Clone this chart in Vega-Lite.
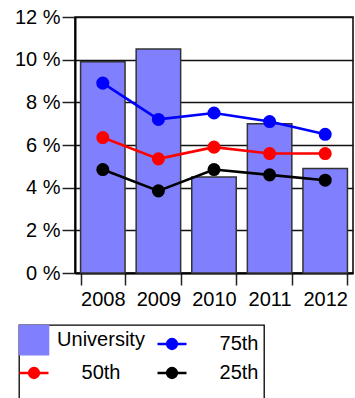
{
  "$schema": "https://vega.github.io/schema/vega-lite/v6.json",
  "width": 278,
  "height": 256,
  "autosize": {"type": "none"},
  "padding": {"left": 75, "top": 17, "right": 2, "bottom": 125},
  "background": "white",
  "config": {
    "font": "Liberation Sans",
    "view": {"stroke": "#111111", "strokeWidth": 1.6},
    "axis": {"labelFont": "Liberation Sans", "labelFontSize": 20, "labelColor": "#000000", "domainColor": "#000000", "tickColor": "#222222"}
  },
  "data": {
    "values": [
      {"year": "2008", "series": "University", "value": 9.9},
      {"year": "2009", "series": "University", "value": 10.5},
      {"year": "2010", "series": "University", "value": 4.5},
      {"year": "2011", "series": "University", "value": 7.0},
      {"year": "2012", "series": "University", "value": 4.9},
      {"year": "2008", "series": "75th", "value": 8.9},
      {"year": "2009", "series": "75th", "value": 7.2},
      {"year": "2010", "series": "75th", "value": 7.5},
      {"year": "2011", "series": "75th", "value": 7.1},
      {"year": "2012", "series": "75th", "value": 6.5},
      {"year": "2008", "series": "50th", "value": 6.35},
      {"year": "2009", "series": "50th", "value": 5.35},
      {"year": "2010", "series": "50th", "value": 5.9},
      {"year": "2011", "series": "50th", "value": 5.6},
      {"year": "2012", "series": "50th", "value": 5.6},
      {"year": "2008", "series": "25th", "value": 4.85},
      {"year": "2009", "series": "25th", "value": 3.85},
      {"year": "2010", "series": "25th", "value": 4.85},
      {"year": "2011", "series": "25th", "value": 4.6},
      {"year": "2012", "series": "25th", "value": 4.35}
    ]
  },
  "encoding": {
    "x": {
      "field": "year", "type": "nominal",
      "scale": {"paddingInner": 0.2, "paddingOuter": 0.1},
      "axis": {"title": null, "labelAngle": 0, "tickBand": "extent", "tickSize": 12, "tickWidth": 1.5, "labelPadding": 4, "domainWidth": 2, "grid": false}
    },
    "y": {
      "field": "value", "type": "quantitative",
      "scale": {"domain": [0, 12], "nice": false},
      "axis": {"title": null, "values": [0, 2, 4, 6, 8, 10, 12], "labelExpr": "datum.value + ' %'", "tickSize": 13, "tickWidth": 1.5, "labelPadding": 2, "domainWidth": 2, "grid": true, "gridColor": "#111111", "gridWidth": 1.3, "gridOpacity": 1}
    },
    "color": {
      "field": "series", "type": "nominal",
      "scale": {"domain": ["University", "75th", "50th", "25th"], "range": ["#8080FF", "#0000FF", "#FF0000", "#000000"]},
      "legend": {
        "title": "\u00a0\u00a0\u00a0",
        "titleOrient": "right",
        "titleFontSize": 100,
        "titleAnchor": "start",
        "titleBaseline": "top",
        "titlePadding": 0,
        "orient": "none",
        "direction": "horizontal",
        "legendX": -56,
        "legendY": 308,
        "columns": 2,
        "columnPadding": 7,
        "rowPadding": 5,
        "padding": 5,
        "strokeColor": "#000000",
        "fillColor": "white",
        "symbolSize": 841,
        "symbolStrokeColor": "#222222",
        "symbolStrokeWidth": 1.6,
        "labelFont": "Liberation Sans",
        "labelFontSize": 20,
        "labelColor": "#000000",
        "labelAlign": "center",
        "labelBaseline": "middle",
        "labelOffset": 57,
        "labelLimit": 200,
        "encode": {
          "legend": {"update": {"strokeWidth": {"value": 1.3}}},
          "symbols": {
            "update": {
              "shape": {"signal": "datum.value === 'University' ? 'M-1,-1L1,-1L1,1L-1,1Z' : 'M-1,0L1,0M0.34,0A0.34,0.34,0,1,1,-0.34,0A0.34,0.34,0,1,1,0.34,0Z'"},
              "fill": {"signal": "scale('color', datum.value)"},
              "fillOpacity": {"value": 1},
              "opacity": {"value": 1},
              "stroke": {"signal": "datum.value === 'University' ? '#222222' : scale('color', datum.value)"},
              "strokeOpacity": {"value": 1},
              "strokeWidth": {"signal": "datum.value === 'University' ? 1.6 : 2.5"}
            }
          }
        }
      }
    }
  },
  "layer": [
    {
      "transform": [{"filter": "datum.series === 'University'"}],
      "mark": {"type": "bar", "stroke": "#333333", "strokeWidth": 1.5, "opacity": 1}
    },
    {
      "transform": [{"filter": "datum.series !== 'University'"}],
      "mark": {"type": "line", "strokeWidth": 2.6},
      "encoding": {"detail": {"field": "series"}}
    },
    {
      "transform": [{"filter": "datum.series !== 'University'"}],
      "mark": {"type": "point", "filled": true, "size": 170, "opacity": 1}
    }
  ]
}
